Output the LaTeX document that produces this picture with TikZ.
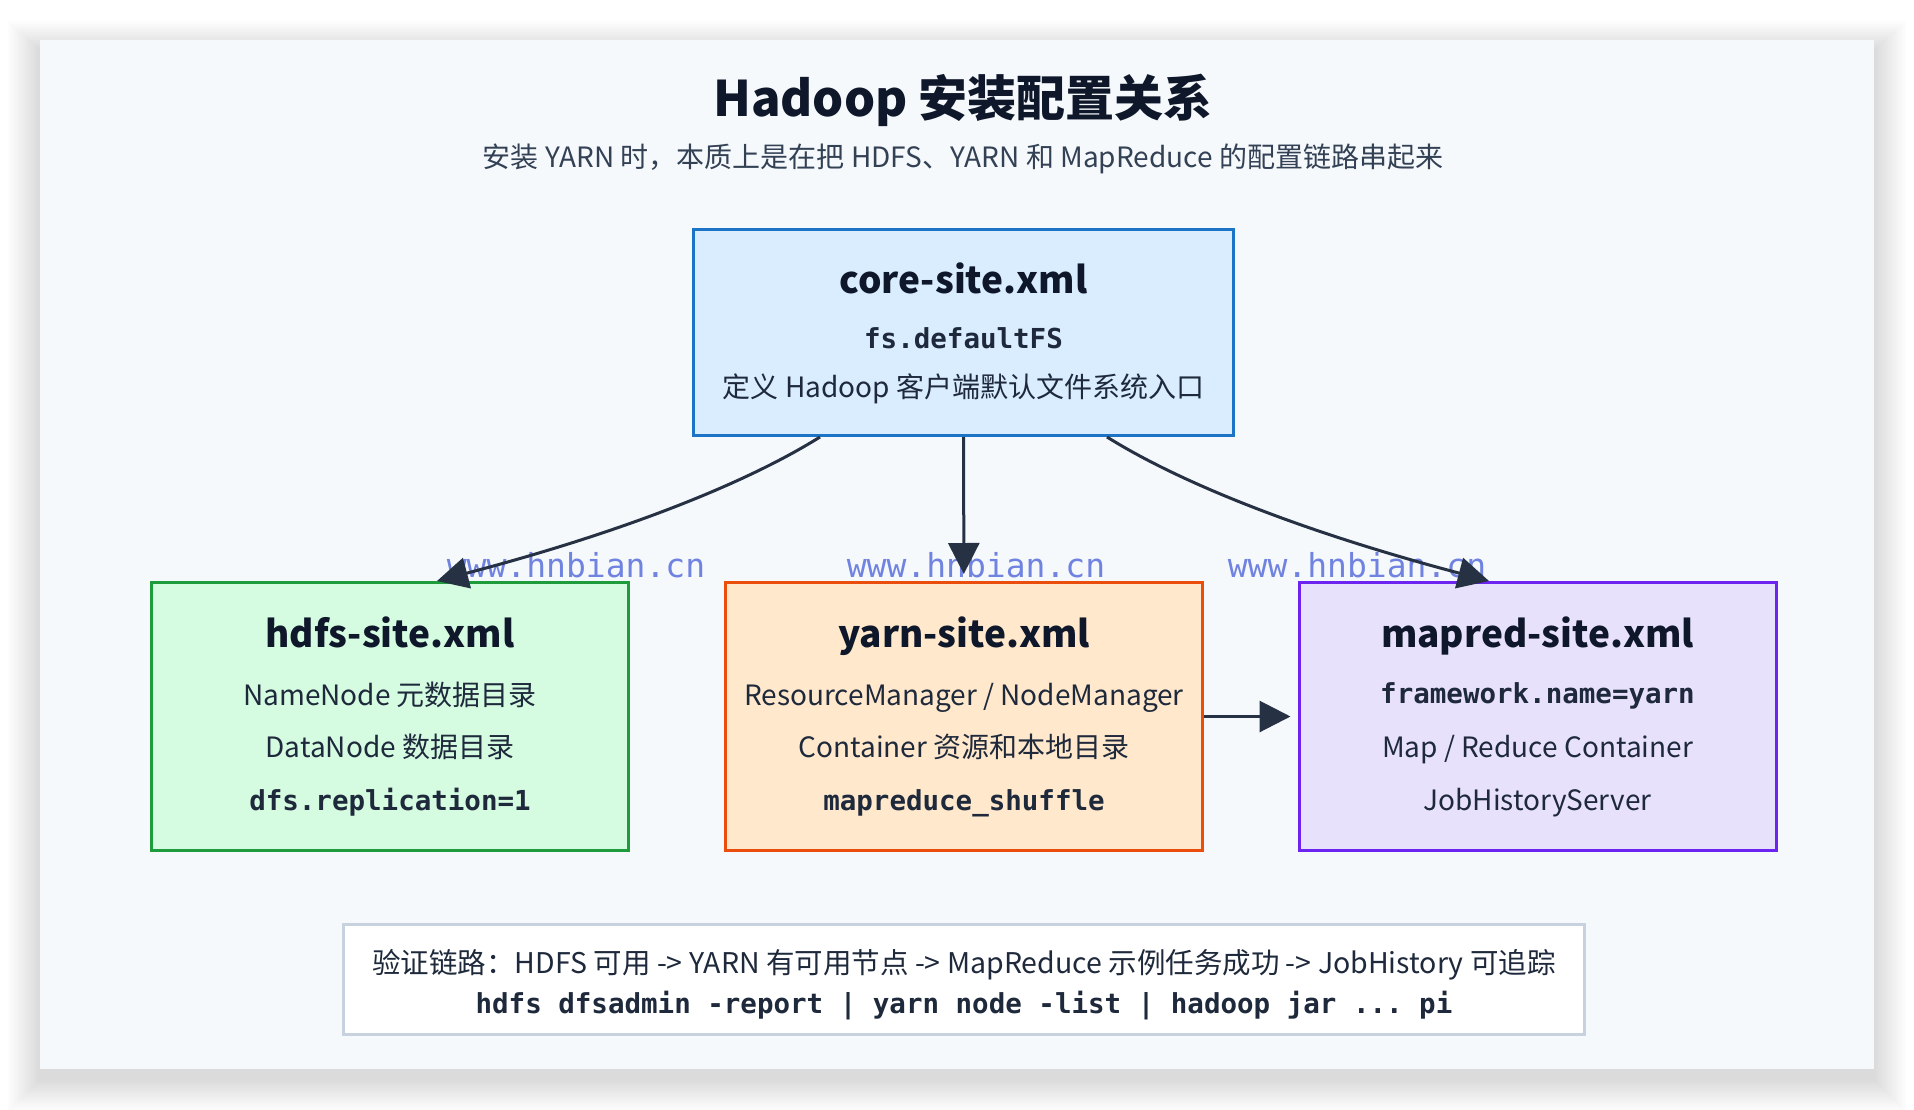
\documentclass[tikz,border=0pt]{standalone}
\usepackage{fontspec}
\setmainfont{Noto Sans CJK SC}
\setmonofont{DejaVu Sans Mono}
\usetikzlibrary{arrows.meta}

\definecolor{cardbg}{HTML}{F6F9FC}
\definecolor{inkdark}{HTML}{0F172A}
\definecolor{inktext}{HTML}{1E293B}
\definecolor{inksub}{HTML}{334155}
\definecolor{coreline}{HTML}{1B74C5}
\definecolor{corefill}{HTML}{D9EDFE}
\definecolor{hdfsline}{HTML}{1E9B3B}
\definecolor{hdfsfill}{HTML}{D5FBE1}
\definecolor{yarnline}{HTML}{EA4D0C}
\definecolor{yarnfill}{HTML}{FFE8CC}
\definecolor{mapredline}{HTML}{6D24F0}
\definecolor{mapredfill}{HTML}{E8E1FC}
\definecolor{noteline}{HTML}{C8D2DF}
\definecolor{arrowink}{HTML}{263143}
\definecolor{wmblue}{HTML}{7083E0}

\begin{document}
\begin{tikzpicture}[x=1pt,y=-1pt,
  cfgbox/.style={draw, line width=3pt, minimum width=477, minimum height=268, inner sep=0pt},
  boxtitle/.style={anchor=base, font=\fontsize{37}{44}\selectfont\bfseries, text=inkdark},
  boxline/.style={anchor=base, font=\fontsize{28}{34}\selectfont, text=inktext},
  boxcode/.style={anchor=base, font=\fontsize{27.5}{33}\selectfont\ttfamily\bfseries, text=inktext},
  link/.style={draw=arrowink, line width=3pt, -{Triangle[length=31pt,width=31pt]}},
  wmtext/.style={anchor=base, font=\fontsize{33}{40}\selectfont\ttfamily, text=wmblue}]
\useasboundingbox (0,0) rectangle (1914,1110);
\fill[white] (0,0) rectangle (1914,1110);
% soft shadow under the card
\foreach \r in {1,...,18}
  \fill[black, opacity=0.007] (40-1.8*\r,40-1.6*\r+10) rectangle (1874+1.8*\r,1069+1.8*\r+10);
\fill[cardbg] (40,40) rectangle (1874,1069);

\node[anchor=base, font=\fontsize{49}{58}\selectfont\bfseries, text=inkdark] (title) at (963,117) {Hadoop 安装配置关系};
\node[anchor=base, font=\fontsize{28}{33}\selectfont, text=inksub] (subtitle) at (963,168) {安装 YARN 时，本质上是在把 HDFS、YARN 和 MapReduce 的配置链路串起来};

\node[cfgbox, draw=coreline, fill=corefill, minimum width=540, minimum height=206] (core) at (963.5,332.5) {};
\node[cfgbox, draw=hdfsline, fill=hdfsfill] (hdfs) at (390,716.5) {};
\node[cfgbox, draw=yarnline, fill=yarnfill] (yarn) at (964,716.5) {};
\node[cfgbox, draw=mapredline, fill=mapredfill] (mapred) at (1537.5,716.5) {};

\node[boxtitle] (core-name) at (963.5,293) {core-site.xml};
\node[boxcode] (core-key) at (963.5,348) {fs.defaultFS};
\node[boxline] (core-desc) at (963.5,397) {定义 Hadoop 客户端默认文件系统入口};

\node[boxtitle] (hdfs-name) at (390,647) {hdfs-site.xml};
\node[boxline] (hdfs-nn) at (390,705) {NameNode 元数据目录};
\node[boxline] (hdfs-dn) at (390,757) {DataNode 数据目录};
\node[boxcode] (hdfs-rep) at (390,810) {dfs.replication=1};

\node[boxtitle] (yarn-name) at (964,647) {yarn-site.xml};
\node[boxline] (yarn-rm) at (964,705) {ResourceManager / NodeManager};
\node[boxline] (yarn-ct) at (964,757) {Container 资源和本地目录};
\node[boxcode] (yarn-aux) at (964,810) {mapreduce\_shuffle};

\node[boxtitle] (mapred-name) at (1537.5,647) {mapred-site.xml};
\node[boxcode] (mapred-fw) at (1537.5,703) {framework.name=yarn};
\node[boxline] (mapred-ct) at (1537.5,757) {Map / Reduce Container};
\node[boxline] (mapred-jh) at (1537.5,810) {JobHistoryServer};

\node[draw=noteline, fill=white, line width=3pt, minimum width=1241, minimum height=110] (note) at (964,979.5) {};
\node[boxline, font=\fontsize{28.5}{33}\selectfont] (note-chain) at (964,973) {验证链路：HDFS 可用 -> YARN 有可用节点 -> MapReduce 示例任务成功 -> JobHistory 可追踪};
\node[boxcode] (note-cmd) at (964,1013) {hdfs dfsadmin -report | yarn node -list | hadoop jar ... pi};

\node[wmtext] (wm-left) at (576,577) {www.hnbian.cn};
\node[wmtext] (wm-mid) at (976,577) {www.hnbian.cn};
\node[wmtext] (wm-right) at (1357,577) {www.hnbian.cn};

\draw[link] ([xshift=-143.5pt]core.south) .. controls (740,487) and (612,535) .. ([xshift=47pt]hdfs.north);
\draw[link, shorten >=7pt] (core) -- (yarn);
\draw[link] ([xshift=143.5pt]core.south) .. controls (1187,487) and (1315,535) .. ([xshift=-48.5pt]mapred.north);
\draw[link, shorten >=7pt] (yarn) -- (mapred);
\end{tikzpicture}
\end{document}
